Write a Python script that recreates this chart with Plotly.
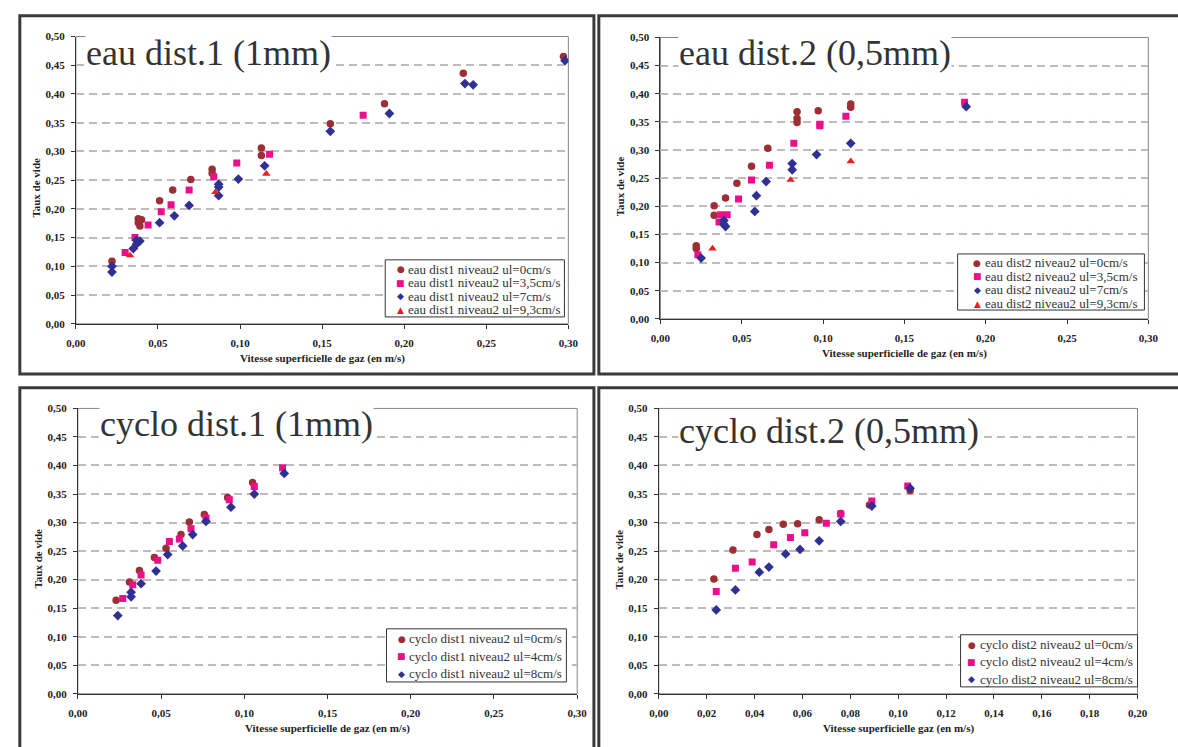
import plotly.graph_objects as go

W, H = 1178, 747

# ---------------- DATA ----------------
# eau dist.1 (1mm)
e1_x0 = [0.022, 0.038, 0.039, 0.038, 0.040, 0.051, 0.059, 0.070, 0.083, 0.083, 0.113, 0.113, 0.155, 0.188, 0.236, 0.297]
e1_y0 = [0.109, 0.183, 0.170, 0.176, 0.181, 0.214, 0.233, 0.251, 0.269, 0.262, 0.306, 0.293, 0.348, 0.383, 0.436, 0.465]
e1_x35 = [0.030, 0.036, 0.044, 0.052, 0.058, 0.069, 0.084, 0.098, 0.118, 0.175]
e1_y35 = [0.124, 0.150, 0.172, 0.195, 0.207, 0.233, 0.256, 0.280, 0.295, 0.363]
e1_x7 = [0.022, 0.022, 0.035, 0.037, 0.037, 0.039, 0.051, 0.060, 0.069, 0.087, 0.087, 0.087, 0.099, 0.115, 0.155, 0.191, 0.237, 0.242, 0.298]
e1_y7 = [0.100, 0.090, 0.131, 0.139, 0.145, 0.144, 0.176, 0.188, 0.206, 0.243, 0.238, 0.223, 0.252, 0.275, 0.335, 0.366, 0.418, 0.416, 0.458]
e1_x93 = [0.033, 0.085, 0.116]
e1_y93 = [0.119, 0.229, 0.261]

# eau dist.2 (0,5mm)
e2_x0 = [0.022, 0.022, 0.033, 0.033, 0.040, 0.047, 0.056, 0.066, 0.084, 0.084, 0.084, 0.097, 0.117, 0.117]
e2_y0 = [0.130, 0.125, 0.201, 0.184, 0.215, 0.241, 0.271, 0.303, 0.368, 0.356, 0.349, 0.370, 0.382, 0.376]
e2_x35 = [0.023, 0.037, 0.041, 0.036, 0.048, 0.056, 0.067, 0.082, 0.098, 0.098, 0.114, 0.187]
e2_y35 = [0.114, 0.185, 0.185, 0.172, 0.213, 0.247, 0.273, 0.312, 0.343, 0.346, 0.360, 0.385]
e2_x7 = [0.025, 0.039, 0.039, 0.040, 0.058, 0.059, 0.065, 0.081, 0.081, 0.096, 0.117, 0.188]
e2_y7 = [0.108, 0.175, 0.168, 0.164, 0.191, 0.219, 0.244, 0.276, 0.265, 0.292, 0.312, 0.377]
e2_x93 = [0.032, 0.080, 0.117]
e2_y93 = [0.125, 0.247, 0.280]

# cyclo dist.1 (1mm)
c1_x0 = [0.023, 0.031, 0.037, 0.046, 0.053, 0.062, 0.067, 0.076, 0.090, 0.105]
c1_y0 = [0.164, 0.196, 0.216, 0.239, 0.255, 0.279, 0.301, 0.314, 0.344, 0.370]
c1_x4 = [0.027, 0.033, 0.038, 0.048, 0.055, 0.061, 0.068, 0.077, 0.091, 0.106, 0.123]
c1_y4 = [0.167, 0.191, 0.208, 0.234, 0.267, 0.271, 0.289, 0.308, 0.340, 0.363, 0.396]
c1_x8 = [0.024, 0.032, 0.032, 0.038, 0.047, 0.054, 0.063, 0.069, 0.077, 0.092, 0.106, 0.124]
c1_y8 = [0.137, 0.178, 0.170, 0.193, 0.215, 0.244, 0.259, 0.279, 0.302, 0.327, 0.350, 0.386]

# cyclo dist.2 (0,5mm)
c2_x0 = [0.023, 0.031, 0.041, 0.046, 0.052, 0.058, 0.067, 0.076, 0.088, 0.105]
c2_y0 = [0.201, 0.252, 0.279, 0.288, 0.297, 0.298, 0.305, 0.316, 0.331, 0.356]
c2_x4 = [0.024, 0.032, 0.039, 0.048, 0.055, 0.061, 0.070, 0.076, 0.089, 0.104]
c2_y4 = [0.179, 0.220, 0.231, 0.261, 0.274, 0.282, 0.299, 0.315, 0.338, 0.364]
c2_x8 = [0.024, 0.032, 0.042, 0.046, 0.053, 0.059, 0.067, 0.076, 0.089, 0.105]
c2_y8 = [0.147, 0.182, 0.213, 0.222, 0.245, 0.253, 0.268, 0.302, 0.329, 0.360]

y_ticks = [0.0, 0.05, 0.10, 0.15, 0.20, 0.25, 0.30, 0.35, 0.40, 0.45, 0.50]

titles = ["eau dist.1 (1mm)", "eau dist.2 (0,5mm)", "cyclo dist.1 (1mm)", "cyclo dist.2 (0,5mm)"]
xtitles = ["Vitesse superficielle de gaz (en m/s)", "Vitesse superficielle de gaz (en m/s)",
           "Vitesse superficielle de gaz (en m/s)", "Vitesse superficielle gaz (en m/s)"]
ytitle = "Taux de vide"

# ---------------- STYLE ----------------
C_RED = "#9B2F33"
C_MAG = "#EC0F8C"
C_NAVY = "#2E3192"
C_TRI = "#EE1C25"
SERIF = "Liberation Serif"
DARK = "#333333"

SYM_CHAR = {"circle": "●", "square": "■", "diamond": "◆", "triangle-up": "▲"}


def px_x(p):
    return p / W


def px_y(p):
    return 1 - p / H


# plot areas in page pixels: (left, right, top, bottom)
areas = [
    (67, 568, 31, 323),
    (661.7, 1158, 32, 318),
    (69, 577, 409, 699),
    (660, 1147, 409, 699),
]
xranges = [[0, 0.30], [0, 0.30], [0, 0.30], [0, 0.20]]
xdticks = [0.05, 0.05, 0.05, 0.02]

fig = go.Figure()
legend_rows = [[], [], [], []]


def add(panel, x, y, name, symbol, color, size):
    n = panel + 1
    fig.add_trace(go.Scatter(
        x=x, y=y, mode="markers", name=name, showlegend=False,
        marker=dict(symbol=symbol, color=color, size=size, line=dict(width=0)),
        xaxis="x" if n == 1 else f"x{n}", yaxis="y" if n == 1 else f"y{n}",
    ))
    legend_rows[panel].append((name, symbol, color))


add(0, e1_x0, e1_y0, "eau dist1 niveau2 ul=0cm/s", "circle", C_RED, 7.5)
add(0, e1_x35, e1_y35, "eau dist1 niveau2 ul=3,5cm/s", "square", C_MAG, 7)
add(0, e1_x7, e1_y7, "eau dist1 niveau2 ul=7cm/s", "diamond", C_NAVY, 7.5)
add(0, e1_x93, e1_y93, "eau dist1 niveau2 ul=9,3cm/s", "triangle-up", C_TRI, 7.5)

add(1, e2_x0, e2_y0, "eau dist2 niveau2 ul=0cm/s", "circle", C_RED, 7.5)
add(1, e2_x35, e2_y35, "eau dist2 niveau2 ul=3,5cm/s", "square", C_MAG, 7)
add(1, e2_x7, e2_y7, "eau dist2 niveau2 ul=7cm/s", "diamond", C_NAVY, 7.5)
add(1, e2_x93, e2_y93, "eau dist2 niveau2 ul=9,3cm/s", "triangle-up", C_TRI, 7.5)

add(2, c1_x0, c1_y0, "cyclo dist1 niveau2 ul=0cm/s", "circle", C_RED, 7.5)
add(2, c1_x4, c1_y4, "cyclo dist1 niveau2 ul=4cm/s", "square", C_MAG, 7)
add(2, c1_x8, c1_y8, "cyclo dist1 niveau2 ul=8cm/s", "diamond", C_NAVY, 7.5)

add(3, c2_x0, c2_y0, "cyclo dist2 niveau2 ul=0cm/s", "circle", C_RED, 7.5)
add(3, c2_x4, c2_y4, "cyclo dist2 niveau2 ul=4cm/s", "square", C_MAG, 7)
add(3, c2_x8, c2_y8, "cyclo dist2 niveau2 ul=8cm/s", "diamond", C_NAVY, 7.5)

layout = dict(
    width=W, height=H, margin=dict(l=0, r=0, t=0, b=0),
    paper_bgcolor="white", plot_bgcolor="white",
    separators=", ",
    font=dict(family=SERIF, color="#222222"),
    showlegend=False,
)

shapes = []
annotations = []

tickfont = dict(family=SERIF, size=11, color="#222222", weight="bold")

for i, (l, r, t, b) in enumerate(areas):
    n = i + 1
    xa = "xaxis" if n == 1 else f"xaxis{n}"
    ya = "yaxis" if n == 1 else f"yaxis{n}"
    xr = "x" if n == 1 else f"x{n}"
    yr = "y" if n == 1 else f"y{n}"
    layout[xa] = dict(
        domain=[px_x(l), px_x(r)], range=xranges[i], anchor=yr,
        tick0=0, dtick=xdticks[i], tickformat=".2f",
        showgrid=False, zeroline=False,
        showline=True, linecolor=DARK, linewidth=1,
        ticks="outside", ticklen=4, tickcolor=DARK, tickwidth=1,
        ticklabelstandoff=5,
        tickfont=tickfont, fixedrange=True,
    )
    layout[ya] = dict(
        domain=[px_y(b), px_y(t)], range=[0, 0.5], anchor=xr,
        tickvals=y_ticks, tickformat=".2f",
        showgrid=True, gridcolor="#C2B9B9", gridwidth=1.5, griddash="8px,5px",
        zeroline=False,
        showline=True, linecolor=DARK, linewidth=1,
        ticks="outside", ticklen=4, tickcolor=DARK, tickwidth=1,
        ticklabelstandoff=4,
        tickfont=tickfont, fixedrange=True,
    )
    # plot area frame (thin gray)
    shapes.append(dict(type="rect", xref=f"{xr} domain", yref=f"{yr} domain",
                       x0=0, x1=1, y0=0, y1=1, line=dict(color="#8C8282", width=1),
                       layer="below"))
    # axis titles
    annotations.append(dict(text=f"<b>{xtitles[i]}</b>", xref="paper", yref="paper",
                            x=px_x((l + r) / 2), y=px_y(b + 35), showarrow=False,
                            xanchor="center", yanchor="middle",
                            font=dict(family=SERIF, size=11, color="#222222")))
    annotations.append(dict(text=f"<b>{ytitle}</b>", xref="paper", yref="paper",
                            x=px_x(l - 41), y=px_y((t + b) / 2 + 8), showarrow=False,
                            textangle=-90, xanchor="center", yanchor="middle",
                            font=dict(family=SERIF, size=11, color="#222222")))

# panel titles
title_pos = [(76, 48), (680, 48), (91, 425), (680, 432)]
for i, (tx, ty) in enumerate(title_pos):
    annotations.append(dict(text=titles[i], xref="paper", yref="paper",
                            x=px_x(tx), y=px_y(ty), showarrow=False,
                            xanchor="left", yanchor="middle", bgcolor="white",
                            borderpad=0,
                            font=dict(family=SERIF, size=36, color="#333333")))

# panel frames
frames = [(10, 594, 10, 374), (599, 1190, 10, 374), (10, 594, 388, 770), (599, 1190, 388, 770)]
for (l, r, t, b) in frames:
    shapes.append(dict(type="rect", xref="paper", yref="paper",
                       x0=px_x(l), x1=px_x(r), y0=px_y(b), y1=px_y(t),
                       line=dict(color="#3A3A3A", width=3), layer="above"))

# legend boxes: (left, right, top, bottom, symbol-x, first-line-y, line-step)
legend_boxes = [
    (381.7, 564, 258, 316, 397.3, 267.7, 13.7),
    (964, 1154, 252, 309, 984, 260.7, 13.9),
    (383, 566, 633, 687, 398.3, 643.3, 17.8),
    (967, 1147, 639, 692, 978.3, 649, 17.5),
]
for i, (bl, br, bt, bb, sx, y0, step) in enumerate(legend_boxes):
    shapes.append(dict(type="rect", xref="paper", yref="paper",
                       x0=px_x(bl), x1=px_x(br), y0=px_y(bb), y1=px_y(bt),
                       line=dict(color="#333333", width=1), fillcolor="white",
                       layer="above"))
    for k, (name, symbol, color) in enumerate(legend_rows[i]):
        yy = y0 + k * step
        annotations.append(dict(
            text=SYM_CHAR[symbol], xref="paper", yref="paper",
            x=px_x(sx), y=px_y(yy), xanchor="center", yanchor="middle",
            showarrow=False, font=dict(family="DejaVu Sans", size=9, color=color),
        ))
        annotations.append(dict(
            text=name, xref="paper", yref="paper",
            x=px_x(sx + 6), y=px_y(yy), xanchor="left", yanchor="middle",
            showarrow=False, font=dict(family=SERIF, size=13, color="#333333"),
        ))

layout["shapes"] = shapes
layout["annotations"] = annotations
fig.update_layout(**layout)

fig.write_html(
    "out.html",
    config={"displayModeBar": False},
    post_script="document.body.style.margin='0';document.body.style.overflow='hidden';",
)
